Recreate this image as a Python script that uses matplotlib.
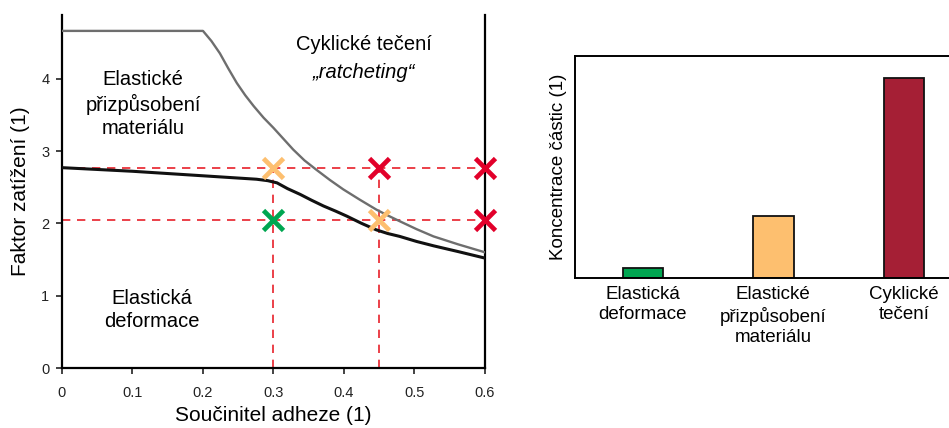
import matplotlib
matplotlib.use("Agg")
import matplotlib.pyplot as plt

plt.rcParams['font.family'] = ['Liberation Sans', 'DejaVu Sans']

# shakedown limit (upper, grey) and elastic limit (lower, black)
upper_x = [0.0, 0.2, 0.212, 0.224, 0.236, 0.248, 0.260, 0.272, 0.286, 0.30, 0.314,
           0.328, 0.344, 0.361, 0.380, 0.399, 0.422, 0.446, 0.462, 0.479, 0.503,
           0.527, 0.562, 0.6]
upper_y = [4.66, 4.66, 4.52, 4.35, 4.14, 3.94, 3.77, 3.62, 3.46, 3.32, 3.17,
           3.02, 2.87, 2.74, 2.60, 2.47, 2.33, 2.19, 2.11, 2.03, 1.92,
           1.82, 1.71, 1.60]
lower_x = [0.0, 0.10, 0.196, 0.276, 0.292, 0.305, 0.320, 0.338, 0.354, 0.371,
           0.388, 0.404, 0.425, 0.446, 0.462, 0.479, 0.503, 0.527, 0.562, 0.6]
lower_y = [2.77, 2.72, 2.66, 2.61, 2.59, 2.56, 2.48, 2.40, 2.32, 2.24,
           2.17, 2.10, 2.00, 1.91, 1.86, 1.82, 1.75, 1.69, 1.61, 1.52]

load_levels = [2.05, 2.76]
adhesion_levels = [0.3, 0.45, 0.6]
# test points: (adhesion, load, regime)
test_x = [0.3, 0.45, 0.6, 0.3, 0.45, 0.6]
test_y = [2.76, 2.76, 2.76, 2.05, 2.05, 2.05]
test_regime = ['shakedown', 'ratchet', 'ratchet', 'elastic', 'shakedown', 'ratchet']

categories = ['Elastická\ndeformace', 'Elastické\npřizpůsobení\nmateriálu', 'Cyklické\ntečení']
concentration = [0.045, 0.28, 0.9]

regime_colors = {'elastic': '#00a651', 'shakedown': '#fdbf6f', 'ratchet': '#e2002a'}
bar_colors = ['#00a651', '#fdbf6f', '#a51f35']
dash_red = '#e8202a'

fig = plt.figure(figsize=(9.49, 4.28), dpi=100)

ax1 = fig.add_axes([0.0653, 0.140, 0.4457, 0.825])
ax1.set_xlim(0, 0.6)
ax1.set_ylim(0, 4.88)
ax1.spines['top'].set_visible(False)
for s in ['left', 'right', 'bottom']:
    ax1.spines[s].set_linewidth(1.6)

for y in load_levels:
    ax1.plot([0, 0.6], [y, y], color=dash_red, lw=1.2, ls=(0, (5, 4)), zorder=2)
for x in adhesion_levels:
    ax1.plot([x, x], [0, max(load_levels)], color=dash_red, lw=1.2, ls=(0, (5, 4)), zorder=2)

ax1.plot(upper_x, upper_y, color='#6e6e6e', lw=1.7, zorder=3)
ax1.plot(lower_x, lower_y, color='#111111', lw=2.2, zorder=3)

for x, y, r in zip(test_x, test_y, test_regime):
    ax1.plot(x, y, marker='x', ms=14, mew=3.4, color=regime_colors[r],
             clip_on=False, zorder=5)

ax1.set_xticks([0, 0.1, 0.2, 0.3, 0.4, 0.5, 0.6])
ax1.set_xticklabels(['0', '0.1', '0.2', '0.3', '0.4', '0.5', '0.6'])
ax1.set_yticks([0, 1, 2, 3, 4])
ax1.tick_params(axis='both', labelsize=10.5, length=4, width=1.2, direction='out',
                colors='#222222')
ax1.tick_params(axis='x', pad=9)
ax1.tick_params(axis='y', pad=5)
ax1.set_xlabel('Součinitel adheze (1)', fontsize=15, labelpad=4)
ax1.set_ylabel('Faktor zatížení (1)', fontsize=15, labelpad=8)

ax1.text(0.428, 4.47, 'Cyklické tečení', fontsize=14.5, ha='center', va='center')
ax1.text(0.428, 4.09, '„ratcheting“', fontsize=14.5, ha='center', va='center',
         style='italic')
ax1.text(0.115, 3.65, 'Elastické\npřizpůsobení\nmateriálu', fontsize=14.5,
         ha='center', va='center', linespacing=1.3)
ax1.text(0.128, 0.80, 'Elastická\ndeformace', fontsize=14.5, ha='center',
         va='center', linespacing=1.3)

ax2 = fig.add_axes([0.606, 0.3505, 0.40, 0.5195])
pos = range(len(categories))
ax2.bar(pos, concentration, width=0.31, color=bar_colors, edgecolor='#111111',
        linewidth=1.3)
ax2.set_xlim(-0.52, 2.39)
ax2.set_ylim(0, 1.0)
ax2.spines['right'].set_visible(False)
for s in ['left', 'top', 'bottom']:
    ax2.spines[s].set_linewidth(1.4)
ax2.set_yticks([])
ax2.set_xticks(list(pos))
ax2.set_xticklabels(categories, fontsize=13.5, linespacing=1.23)
ax2.tick_params(axis='x', length=0, pad=6)
ax2.set_ylabel('Koncentrace částic (1)', fontsize=13.5, labelpad=6)

fig.savefig('out.png', dpi=100)
